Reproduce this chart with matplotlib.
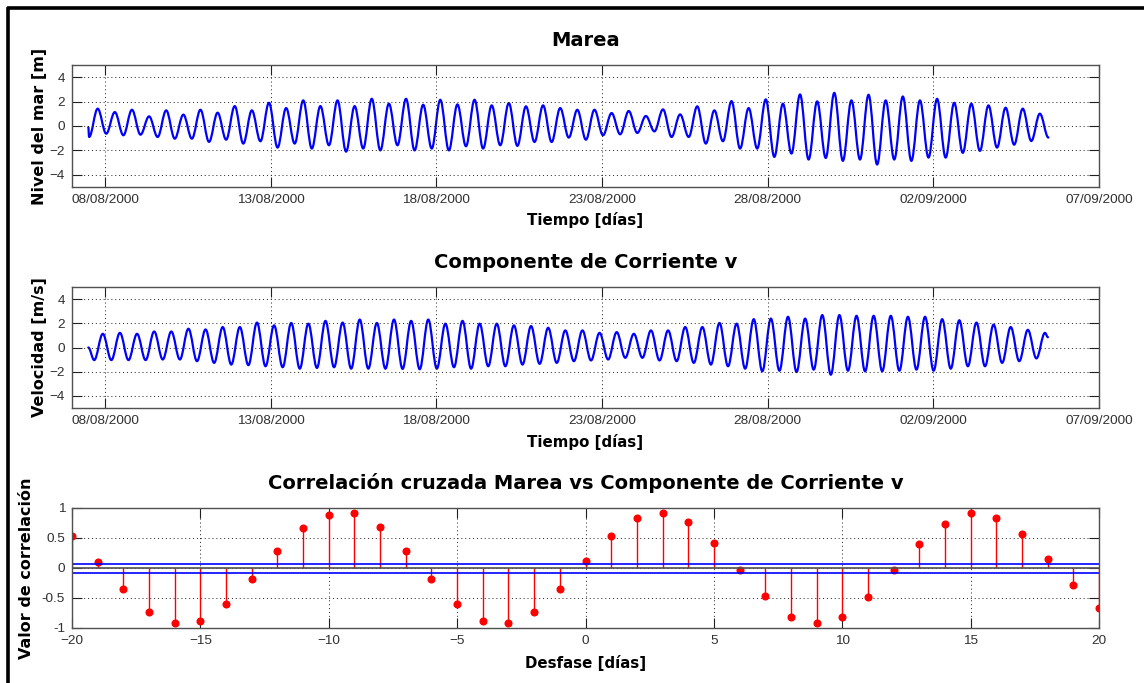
import numpy as np
import pandas as pd
import matplotlib
matplotlib.use("Agg")
import matplotlib.pyplot as plt
import matplotlib.dates as mdates
from matplotlib.lines import Line2D
from matplotlib.path import Path
from matplotlib.patches import PathPatch

# --- data ------------------------------------------------------------------
# sea level extrema (m): first trough, then peak/trough pairs ... last trough
tide_extrema = [
    -0.90,
    1.42, -0.63, 1.14, -0.76, 1.33, -0.71, 0.79, -0.90, 1.28, -1.04,
    0.93, -1.04, 1.33, -1.30, 1.09, -1.12, 1.63, -1.44, 1.28, -1.25,
    1.90, -1.77, 1.47, -1.44, 2.10, -1.85, 1.63, -1.58, 2.10, -2.10,
    1.63, -1.85, 2.23, -2.00, 1.83, -1.58, 2.23, -2.00,
    1.74, -1.85, 2.15, -2.00, 1.77, -1.66, 2.15, -1.85, 1.69, -1.58,
    1.88, -1.63, 1.61, -1.31, 1.69, -1.31, 1.47, -0.95, 1.33, -1.12,
    1.33, -0.76, 1.06, -0.68, 1.23, -0.57, 0.82, -0.44, 1.36, -0.90,
    0.95, -0.90, 1.61, -1.44, 1.28, -1.25, 2.04, -1.85, 1.47, -1.85,
    2.18, -2.53, 1.83, -2.26, 2.59, -2.75, 2.02, -2.62, 2.72, -2.86,
    2.10, -2.75, 2.56, -3.16, 2.10, -2.75, 2.42, -2.86, 2.10, -2.59,
    2.23, -2.59, 1.90, -2.20, 1.83, -2.04, 1.69, -1.77, 1.50, -1.53,
    1.42, -1.23, 1.01, -0.95,
]
tide_start_value = -0.10

# current v component extrema (m/s): first trough, then peak/trough ... last peak
vel_extrema = [
    -1.04,
    1.13, -1.04, 1.21, -1.04, 1.13, -1.04, 1.32, -0.99, 1.32, -0.99,
    1.55, -1.13, 1.49, -1.27, 1.69, -1.41, 1.69, -1.46, 2.06, -1.55,
    1.83, -1.63, 2.03, -1.75, 1.97, -1.69, 2.20, -1.63, 2.06, -1.75,
    2.31, -1.75, 2.03, -1.75, 2.31, -1.77, 2.20, -1.80,
    2.31, -1.75, 1.97, -1.63, 2.20, -1.75, 1.97, -1.55, 1.97, -1.55,
    1.83, -1.41, 1.77, -1.35, 1.63, -1.27, 1.41, -1.13, 1.41, -1.07,
    1.21, -0.99, 1.27, -0.85, 1.13, -0.85, 1.41, -1.07, 1.41, -1.13,
    1.69, -1.27, 1.69, -1.41, 2.03, -1.55, 1.97, -1.75, 2.34, -1.97,
    2.39, -1.92, 2.54, -2.03, 2.39, -1.83, 2.68, -2.25, 2.68, -1.92,
    2.62, -1.97, 2.62, -1.97, 2.62, -1.92, 2.54, -1.83, 2.54, -1.92,
    2.34, -1.75, 2.25, -1.55, 2.06, -1.55, 1.89, -1.27, 1.69, -1.13,
    1.46, -0.90, 1.21,
]
vel_start_value = 0.0
vel_end_value = 0.85

# cross correlation
lags = list(range(-20, 21))
corr = [0.53, 0.10, -0.35, -0.73, -0.92, -0.88, -0.60, -0.18, 0.29, 0.66,
        0.89, 0.91, 0.69, 0.29, -0.18, -0.60, -0.88, -0.92, -0.73, -0.35,
        0.12, 0.53, 0.83, 0.91, 0.76, 0.42, -0.03, -0.46, -0.81, -0.92,
        -0.81, -0.49, -0.04, 0.40, 0.74, 0.91, 0.83, 0.57, 0.15, -0.29, -0.67]
conf_bound = 0.075

date_ticks = ["2000-08-08", "2000-08-13", "2000-08-18", "2000-08-23",
              "2000-08-28", "2000-09-02", "2000-09-07"]

# --- timing (hours after 07/08/2000 00:00) ---------------------------------
t_origin = pd.Timestamp("2000-08-07")
half_period_h = 6.205
start_h = 11.8
tide_first_h = 12.4
vel_first_h = 16.1
vel_end_h = 707.0

tide_h = np.concatenate([[start_h], tide_first_h + half_period_h * np.arange(len(tide_extrema))])
tide_v = np.concatenate([[tide_start_value], tide_extrema])
vel_h = np.concatenate([[start_h], vel_first_h + half_period_h * np.arange(len(vel_extrema)), [vel_end_h]])
vel_v = np.concatenate([[vel_start_value], vel_extrema, [vel_end_value]])

tide_x = mdates.date2num(t_origin + pd.to_timedelta(tide_h, unit="h"))
vel_x = mdates.date2num(t_origin + pd.to_timedelta(vel_h, unit="h"))

# --- figure -----------------------------------------------------------------
W, H = 1144, 683
fig = plt.figure(figsize=(W / 100, H / 100), dpi=100)

title_kw = dict(fontfamily="DejaVu Sans", fontweight="bold", fontsize=14, pad=14)
label_kw = dict(fontfamily="DejaVu Sans", fontweight="bold")


def box(left, top, right, bottom):
    return [left / W, 1 - bottom / H, (right - left) / W, (bottom - top) / H]


def style(ax):
    for s in ax.spines.values():
        s.set_color("#505050")
        s.set_linewidth(1.0)
    ax.tick_params(direction="in", top=True, right=True, length=7.5, width=0.8,
                   color="#202020", labelcolor="#303030", pad=5)
    for lab in ax.get_xticklabels() + ax.get_yticklabels():
        lab.set_fontfamily("Liberation Sans")
        lab.set_fontsize(9.7)
    ax.grid(True, linestyle=(0, (1, 3)), color="#202020", linewidth=0.7)


def smooth_line(ax, x, y, color):
    # extrema joined by cubic curves with flat tangents at each extremum
    verts = [(x[0], y[0])]
    codes = [Path.MOVETO]
    for i in range(len(x) - 1):
        d = x[i + 1] - x[i]
        verts += [(x[i] + 0.364 * d, y[i]), (x[i + 1] - 0.364 * d, y[i + 1]),
                  (x[i + 1], y[i + 1])]
        codes += [Path.CURVE4] * 3
    ax.add_patch(PathPatch(Path(verts, codes), fill=False, edgecolor=color,
                           lw=1.6, capstyle="round", joinstyle="round"))


def time_axis(ax):
    ax.xaxis_date()
    ax.set_xlim(pd.Timestamp("2000-08-07"), pd.Timestamp("2000-09-07"))
    ax.set_xticks(pd.to_datetime(date_ticks))
    ax.xaxis.set_major_formatter(mdates.DateFormatter("%d/%m/%Y"))
    ax.set_ylim(-5, 5)
    ax.set_yticks([-4, -2, 0, 2, 4])


ax1 = fig.add_axes(box(72, 65, 1099, 187))
time_axis(ax1)
smooth_line(ax1, tide_x, tide_v, "#0000ff")
style(ax1)
ax1.set_title("Marea", **title_kw)
ax1.set_xlabel("Tiempo [días]", fontsize=10.8, **label_kw)
ax1.set_ylabel("Nivel del mar [m]", fontsize=11.5, **label_kw)
ax1.xaxis.set_label_coords(0.5, -0.205)
ax1.yaxis.set_label_coords(-0.024, 0.5)

ax2 = fig.add_axes(box(72, 287, 1099, 408))
time_axis(ax2)
smooth_line(ax2, vel_x, vel_v, "#0000ff")
style(ax2)
ax2.set_title("Componente de Corriente v", **title_kw)
ax2.set_xlabel("Tiempo [días]", fontsize=10.8, **label_kw)
ax2.set_ylabel("Velocidad [m/s]", fontsize=11.5, **label_kw)
ax2.xaxis.set_label_coords(0.5, -0.215)
ax2.yaxis.set_label_coords(-0.024, 0.5)

ax3 = fig.add_axes(box(72, 508, 1099, 628))
markers, stems, base = ax3.stem(lags, corr, linefmt="-", markerfmt="o", basefmt="-")
plt.setp(stems, color="#ff0000", linewidth=1.0)
plt.setp(markers, color="#ff0000", markersize=4.8)
plt.setp(base, color="#505050", linewidth=1.2)
ax3.axhline(conf_bound, color="#0000ff", lw=1.2)
ax3.axhline(-conf_bound, color="#0000ff", lw=1.2)
ax3.set_xlim(-20, 20)
ax3.set_ylim(-1, 1)
ax3.set_xticks([-20, -15, -10, -5, 0, 5, 10, 15, 20])
ax3.set_yticks([-1, -0.5, 0, 0.5, 1])
ax3.set_yticklabels(["-1", "-0.5", "0", "0.5", "1"])
style(ax3)
ax3.set_title("Correlación cruzada Marea vs Componente de Corriente v", **title_kw)
ax3.set_xlabel("Desfase [días]", fontsize=10.8, **label_kw)
ax3.set_ylabel("Valor de correlación", fontsize=11.5, **label_kw)
ax3.xaxis.set_label_coords(0.5, -0.225)
ax3.yaxis.set_label_coords(-0.037, 0.5)

# black frame on top / left edge
fig.add_artist(Line2D([8 / W, 8 / W, 1.02], [-0.02, 1 - 8 / H, 1 - 8 / H],
                      transform=fig.transFigure, color="black", lw=2.6,
                      solid_joinstyle="round"))

fig.savefig("out.png", dpi=100)
